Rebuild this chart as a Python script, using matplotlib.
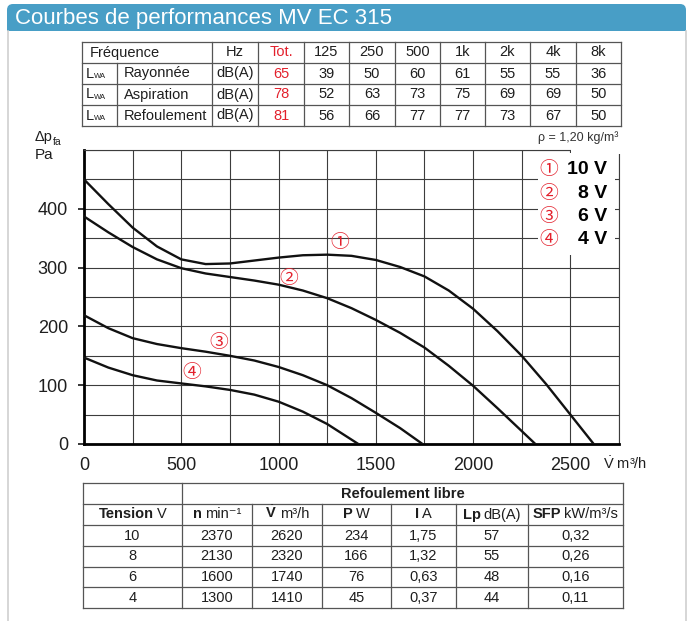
import matplotlib
matplotlib.use('Agg')
import matplotlib.pyplot as plt
from matplotlib.patches import Rectangle, FancyBboxPatch
import numpy as np

W, H = 692, 621

# --- donnees acoustiques (tableau du haut)
freq_labels = ['Hz', 'Tot.', '125', '250', '500', '1k', '2k', '4k', '8k']
lwa_names = ['Rayonnée', 'Aspiration', 'Refoulement']
lwa_tot = [65, 78, 81]
lwa_bands = [[39, 50, 60, 61, 55, 55, 36],
             [52, 63, 73, 75, 69, 69, 50],
             [56, 66, 77, 77, 73, 67, 50]]

# --- courbes debit / pression
q_10v = [0, 125, 250, 375, 500, 625, 750, 875, 1000, 1125, 1250, 1375, 1500, 1625, 1750, 1875, 2000, 2125, 2250, 2375, 2500, 2620]
p_10v = [450, 408, 368, 336, 314, 306, 307, 312, 317, 321, 322, 320, 313, 301, 285, 261, 230, 192, 150, 102, 50, 0]
q_8v = [0, 125, 250, 375, 500, 625, 750, 875, 1000, 1125, 1250, 1375, 1500, 1625, 1750, 1875, 2000, 2125, 2250, 2320]
p_8v = [387, 360, 335, 314, 299, 290, 284, 278, 271, 261, 248, 231, 211, 189, 164, 133, 99, 61, 22, 0]
q_6v = [0, 125, 250, 375, 500, 625, 750, 875, 1000, 1125, 1250, 1375, 1500, 1625, 1740]
p_6v = [219, 197, 180, 170, 163, 157, 150, 142, 131, 117, 100, 78, 53, 27, 0]
q_4v = [0, 125, 250, 375, 500, 625, 750, 875, 1000, 1125, 1250, 1410]
p_4v = [147, 130, 117, 108, 103, 98, 92, 84, 72, 55, 34, 0]

# --- tableau du bas
tension = [10, 8, 6, 4]
n_rpm = [2370, 2130, 1600, 1300]
v_flow = [2620, 2320, 1740, 1410]
power = [234, 166, 76, 45]
current = [1.75, 1.32, 0.63, 0.37]
lp = [57, 55, 48, 44]
sfp = [0.32, 0.26, 0.16, 0.11]

RED = '#e3202c'
BLUE = '#489ec6'
TXT = '#1e1e1e'
LINE = '#555555'
SANS = ['Liberation Sans', 'DejaVu Sans']
NARROW = ['Liberation Sans Narrow', 'Liberation Sans', 'DejaVu Sans']
CIRC = ['Noto Sans CJK JP', 'DejaVu Sans']

plt.rcParams['mathtext.fontset'] = 'custom'
plt.rcParams['mathtext.rm'] = 'Liberation Sans'
plt.rcParams['mathtext.it'] = 'Liberation Sans:italic'
plt.rcParams['mathtext.bf'] = 'Liberation Sans:bold'

VDOT = r'$\dot{\mathrm{V}}$'
VDOT_B = r'$\dot{\mathbf{V}}$'


def fr(v):
    return f'{v:.2f}'.replace('.', ',')


fig = plt.figure(figsize=(W / 100, H / 100), dpi=100)

# graphique
ax = fig.add_axes([84 / W, (H - 444) / H, (619 - 84) / W, (444 - 150) / H])
ax.set_xlim(0, 2750)
ax.set_ylim(0, 500)
ax.set_xticks(np.arange(0, 2501, 500))
ax.set_xticks(np.arange(0, 2751, 250), minor=True)
ax.set_yticks(np.arange(0, 401, 100))
ax.set_yticks(np.arange(0, 501, 50), minor=True)
ax.grid(which='both', color='#3c3c3c', lw=0.8)
ax.set_axisbelow(True)
ax.tick_params(axis='x', which='both', length=0, pad=9, labelsize=13, labelcolor=TXT)
ax.tick_params(axis='y', which='major', length=4.5, width=1.1, pad=7, labelsize=13, labelcolor=TXT)
ax.tick_params(axis='y', which='minor', length=0)
for lab in ax.get_xticklabels() + ax.get_yticklabels():
    lab.set_family(SANS)
for s in ['left', 'bottom']:
    ax.spines[s].set_linewidth(2.0)
    ax.spines[s].set_color('black')
for s in ['top', 'right']:
    ax.spines[s].set_linewidth(0.8)
    ax.spines[s].set_color('#3c3c3c')

for q, p in [(q_10v, p_10v), (q_8v, p_8v), (q_6v, p_6v), (q_4v, p_4v)]:
    ax.plot(q, p, color='#111111', lw=1.7, solid_joinstyle='round', zorder=3)

curve_marks = [('①', 1316, 342), ('②', 1054, 282), ('③', 694, 172), ('④', 555, 121)]
for s, x, y in curve_marks:
    ax.text(x, y, s, color=RED, fontsize=13.5, family=CIRC, ha='center', va='center', zorder=4)

# calque pixel pour le reste
ov = fig.add_axes([0, 0, 1, 1], zorder=10)
ov.set_xlim(0, W)
ov.set_ylim(H, 0)
ov.axis('off')
ov.patch.set_visible(False)

# bandeau titre + cadre
ov.add_patch(FancyBboxPatch((7, 4), 679, 27, boxstyle='round,pad=0,rounding_size=6', fc=BLUE, ec='none'))
ov.add_patch(Rectangle((7, 18), 679, 13, fc=BLUE, ec='none'))
ov.plot([7.5, 7.5], [31, H], color='#cfcfcf', lw=1.2)
ov.plot([685.5, 685.5], [31, H], color='#cfcfcf', lw=1.2)
ov.text(15, 18.5, 'Courbes de performances MV EC 315', color='white', fontsize=16,
        family=SANS, va='center', ha='left')

# legende
ov.add_patch(Rectangle((538, 153), 77, 102, fc='white', ec='none'))
ov.add_patch(Rectangle((571, 145), 50, 9, fc='white', ec='none'))
leg_y = [169.5, 193, 216.5, 240]
for i, v in enumerate(tension):
    ov.text(549, leg_y[i], curve_marks[i][0], color=RED, fontsize=13.5, family=CIRC, ha='center', va='center')
    ov.text(607, leg_y[i], f'{v} V', color='black', fontsize=14, weight='bold', family=SANS,
            ha='right', va='center')

ov.text(618, 138, 'ρ = 1,20 kg/m³', color='#333333', fontsize=9, family=SANS, ha='right', va='center')

# libelles des axes
ov.text(35, 137, 'Δp', color=TXT, fontsize=10.5, family=SANS, ha='left', va='center')
ov.text(53, 142, 'fa', color=TXT, fontsize=7.5, family=SANS, ha='left', va='center')
ov.text(35, 155, 'Pa', color=TXT, fontsize=11, family=SANS, ha='left', va='center')
ov.text(603, 469, VDOT + ' m³/h', color=TXT, fontsize=10.5, family=NARROW, ha='left', va='baseline')

# tableau du haut
cols = [82, 117, 212, 258, 304, 349, 395, 440, 485, 530, 576, 621]
rows = [42, 63, 84, 105, 126]
for y in rows:
    ov.plot([cols[0], cols[-1]], [y, y], color=LINE, lw=0.9)
for i, x in enumerate(cols):
    y0 = rows[1] if i == 1 else rows[0]
    ov.plot([x, x], [y0, rows[-1]], color=LINE, lw=0.9)

FS = 10.5
yc = [(rows[k] + rows[k + 1]) / 2 for k in range(4)]
ov.text(90, yc[0], 'Fréquence', fontsize=FS, family=NARROW, color=TXT, ha='left', va='center')
for j, lab in enumerate(freq_labels):
    xc = (cols[j + 2] + cols[j + 3]) / 2
    ov.text(xc, yc[0], lab, fontsize=FS, family=NARROW, color=RED if lab == 'Tot.' else TXT,
            ha='center', va='center')
for r in range(3):
    y = yc[r + 1]
    ov.text(86, y, 'L', fontsize=FS, family=NARROW, color=TXT, ha='left', va='center')
    ov.text(94, y + 3, 'WA', fontsize=5.5, family=NARROW, color=TXT, ha='left', va='center')
    ov.text(124, y, lwa_names[r], fontsize=FS, family=NARROW, color=TXT, ha='left', va='center')
    ov.text((cols[2] + cols[3]) / 2, y, 'dB(A)', fontsize=FS, family=NARROW, color=TXT, ha='center', va='center')
    ov.text((cols[3] + cols[4]) / 2, y, str(lwa_tot[r]), fontsize=FS, family=NARROW, color=RED,
            ha='center', va='center')
    for j, v in enumerate(lwa_bands[r]):
        ov.text((cols[j + 4] + cols[j + 5]) / 2, y, str(v), fontsize=FS, family=NARROW, color=TXT,
                ha='center', va='center')

# tableau du bas
cols2 = [83, 182, 252, 322, 391, 456, 528, 623]
rows2 = [483, 504, 525, 546, 566.5, 587, 608]
for y in rows2:
    ov.plot([cols2[0], cols2[-1]], [y, y], color=LINE, lw=0.9)
for i, x in enumerate(cols2):
    y0 = rows2[0] if i in (0, 1, len(cols2) - 1) else rows2[1]
    ov.plot([x, x], [y0, rows2[-1]], color=LINE, lw=0.9)
yc2 = [(rows2[k] + rows2[k + 1]) / 2 for k in range(6)]
ov.text((cols2[1] + cols2[-1]) / 2, yc2[0], 'Refoulement libre', fontsize=FS, weight='bold',
        family=NARROW, color=TXT, ha='center', va='center')

renderer = fig.canvas.get_renderer()
heads = [('Tension', 'V'), ('n', 'min⁻¹'), (VDOT_B, 'm³/h'), ('P', 'W'), ('I', 'A'),
         ('Lp', 'dB(A)'), ('SFP', 'kW/m³/s')]
yb = yc2[1] + 4
for j, (b, r) in enumerate(heads):
    xc = (cols2[j] + cols2[j + 1]) / 2
    t1 = ov.text(0, yb, b, fontsize=FS, weight='bold', family=NARROW, color=TXT, ha='left', va='baseline')
    t2 = ov.text(0, yb, r, fontsize=FS, family=NARROW, color=TXT, ha='left', va='baseline')
    w1 = t1.get_window_extent(renderer).width
    w2 = t2.get_window_extent(renderer).width
    x0 = xc - (w1 + 3 + w2) / 2
    t1.set_x(x0)
    t2.set_x(x0 + w1 + 3)

for i in range(4):
    vals = [str(tension[i]), str(n_rpm[i]), str(v_flow[i]), str(power[i]), fr(current[i]),
            str(lp[i]), fr(sfp[i])]
    for j, s in enumerate(vals):
        ov.text((cols2[j] + cols2[j + 1]) / 2, yc2[i + 2], s, fontsize=FS, family=NARROW, color=TXT,
                ha='center', va='center')

fig.savefig('out.png', dpi=100)
